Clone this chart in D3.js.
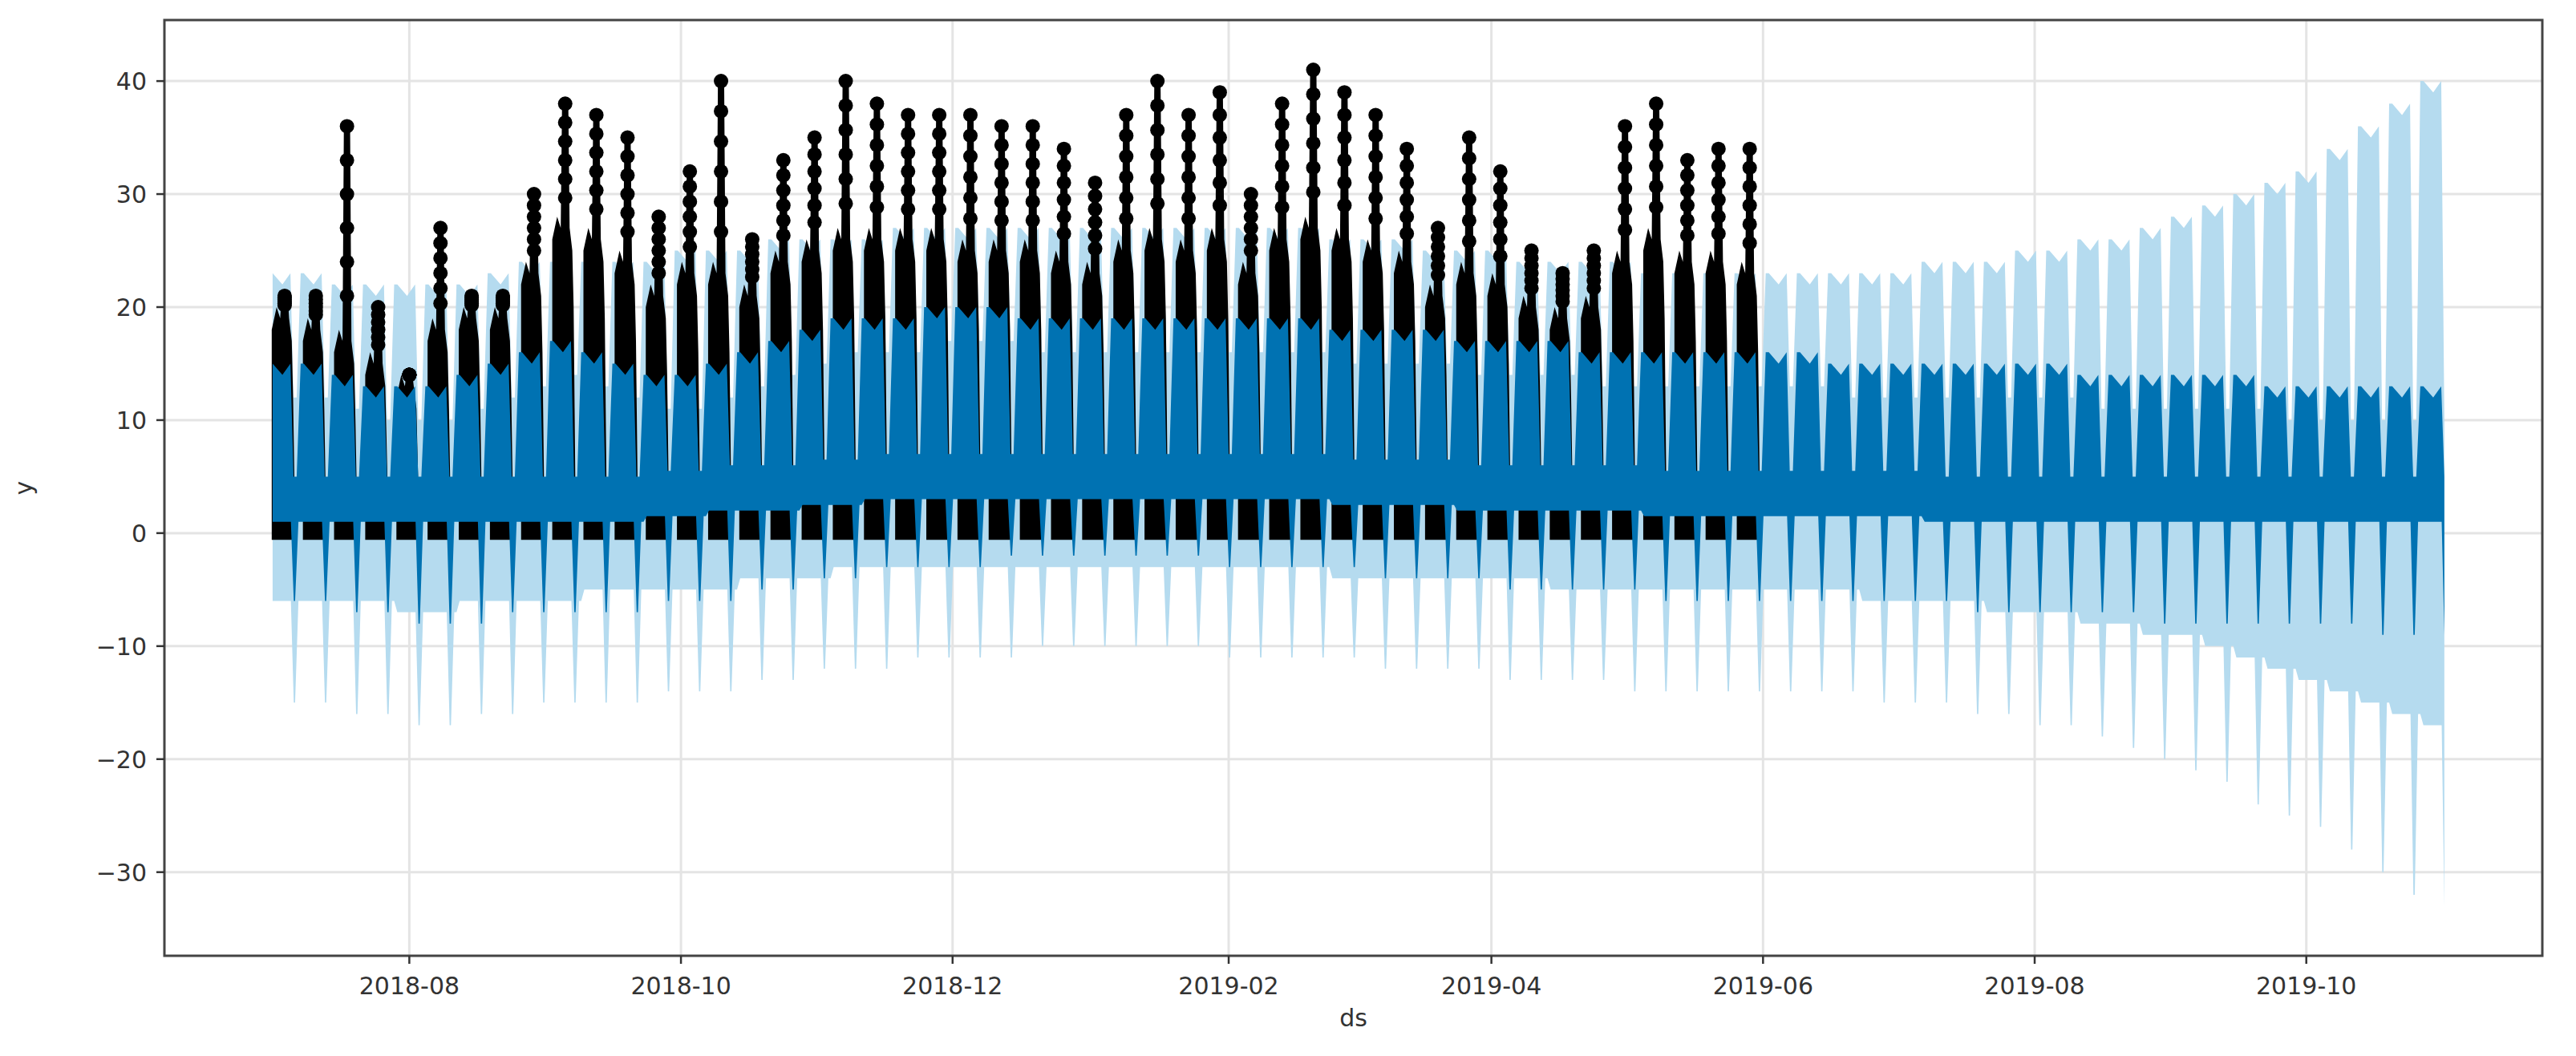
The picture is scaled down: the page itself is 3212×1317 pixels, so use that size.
<!DOCTYPE html>
<html><head><meta charset="utf-8">
<script src="https://cdn.jsdelivr.net/npm/d3@7"></script>
<style>body{margin:0;background:#fff}</style></head>
<body><svg id="c" width="3212" height="1317"></svg>
<script>
const startDate = "2018-07-01";
const endDate = "2019-11-01";
const obsEnd = "2019-06-01";
const xTicks = ["2018-08-01","2018-10-01","2018-12-01","2019-02-01","2019-04-01","2019-06-01","2019-08-01","2019-10-01"];
const yTicks = [-30,-20,-10,0,10,20,30,40];
// weekly forecast values (weeks starting 2018-07-01)
const yhatHigh = [15,15,14,13,13, 13,14,15,16, 17,16,15,14,14, 15,16,17,18, 19,19,19,20, 20,20,19,19,19, 19,19,19,19, 19,19,19,18, 18,18,18,17,17, 17,17,16,16, 16,16,16,16, 16,16,15,15,15, 15,15,15,15, 15,14,14,14, 14,14,14,13,13, 13,13,13,13];
const yhatBase = [1,1,1,1,1, 1,1,1,1, 1,1,1,1.5,1.5, 2,2,2,2.5, 2.5,3,3,3, 3,3,3,3,3, 3,3,3,3, 3,3,3,2.5, 2.5,2.5,2.5,2,2, 2,2,2,2, 1.5,1.5,1.5,1.5, 1.5,1.5,1.5,1.5,1.5, 1,1,1,1, 1,1,1,1, 1,1,1,1,1, 1,1,1,1];
const yhatDip = [-6,-6,-7,-7,-8, -8,-8,-7,-7, -7,-7,-7,-6,-6, -6,-5,-5,-4, -4,-3,-3,-3, -3,-2,-2,-2,-2, -2,-2,-2,-3, -3,-3,-3,-3, -4,-4,-4,-4,-5, -5,-5,-5,-5, -6,-6,-6,-6, -6,-6,-6,-6,-6, -6,-7,-7,-7, -7,-7,-7,-8, -8,-8,-8,-8,-8, -8,-9,-9,-9];
const upperHigh = [23,23,22,22,22, 22,22,23,24, 24,24,24,24,25, 25,25,26,26, 26,26,27,27, 27,27,27,27,27, 27,27,27,27, 27,27,27,26, 26,26,25,25,25, 24,24,24,24, 23,23,23,23, 23,23,23,23,23, 24,24,24,25, 25,26,26,27, 28,29,30,31,32, 34,36,38,40];
const lowerBase = [-6,-6,-6,-6,-7, -7,-6,-6,-6, -6,-5,-5,-5,-5, -5,-4,-4,-4, -3,-3,-3,-3, -3,-3,-3,-3,-3, -3,-3,-3,-3, -3,-3,-3,-4, -4,-4,-4,-4,-4, -4,-5,-5,-5, -5,-5,-5,-5, -5,-5,-5,-6,-6, -6,-6,-7,-7, -7,-8,-8,-9, -9,-10,-11,-12,-13, -14,-15,-16,-17];
const lowerDip = [-15,-15,-16,-16,-17, -17,-16,-16,-15, -15,-15,-15,-14,-14, -14,-13,-13,-12, -12,-12,-11,-11, -11,-11,-10,-10,-10, -10,-10,-10,-11, -11,-11,-11,-11, -12,-12,-12,-12,-13, -13,-13,-13,-14, -14,-14,-14,-14, -14,-14,-14,-15,-15, -15,-16,-16,-17, -17,-18,-19,-20, -21,-22,-24,-25,-26, -28,-30,-32,-33];
// weekly observed maxima and typical top (weeks starting 2018-07-01)
const obsMax = [21,21,36,20,14,27,21,21,30,38,37,35,28,32,40,26,33,35,40,38,37,37,37,36,36,34,31,37,40,37,39,30,38,41,39,37,34,27,35,32,25,23,25,36,38,33,34,34];
const obsTypical = [20,19,18,16,14,19,20,20,24,28,27,25,22,24,24,22,25,26,27,27,27,27,26,26,26,25,24,26,27,26,27,24,27,28,27,26,25,22,24,23,21,20,21,25,27,25,25,24];

const W=3212,H=1317,m={l:205,r:42,t:25,b:125};
const svg=d3.select("#c");
const parse=d3.utcParse("%Y-%m-%d");
const x=d3.scaleUtc().domain([parse("2018-06-07"),parse("2019-11-23")]).range([m.l,W-m.r]);
const y=d3.scaleLinear().domain([-37.4,45.4]).range([H-m.b,m.t]);
const t0=parse(startDate), tEnd=parse(endDate), tObs=parse(obsEnd);
const day=864e5;
const T=(k,d)=>new Date(Math.min(+t0+(k*7+d)*day,+tEnd));
const line=d3.line().x(d=>x(d[0])).y(d=>y(d[1]));

// grid
const g=svg.append("g");
g.selectAll(".gx").data(xTicks).join("line").attr("x1",d=>x(parse(d))).attr("x2",d=>x(parse(d))).attr("y1",m.t).attr("y2",H-m.b).attr("stroke","#e4e4e4").attr("stroke-width",3);
g.selectAll(".gy").data(yTicks).join("line").attr("x1",m.l).attr("x2",W-m.r).attr("y1",d=>y(d)).attr("y2",d=>y(d)).attr("stroke","#e4e4e4").attr("stroke-width",3);

function band(hi,base,dip,topDip){
  const top=[],bot=[];
  hi.forEach((h,k)=>{
    const hp=(k+1<hi.length)?hi[k+1]:h;
    top.push([T(k,0.3),h],[T(k,2.5),h-1],[T(k,4.3),h],[T(k,5.0),topDip(k)],[T(k,5.7),topDip(k)],[T(k,6.6),hp]);
    bot.push([T(k,0.3),base[k]],[T(k,4.4),base[k]],[T(k,5.05),dip[k]],[T(k,5.35),dip[k]],[T(k,6.1),base[k]],[T(k,6.6),base[k]]);
  });
  const pts=top.concat(bot.reverse());
  return line(pts)+"Z";
}
// uncertainty band
svg.append("path").attr("d",band(upperHigh,lowerBase,lowerDip,k=>yhatHigh[k]-3)).attr("fill","#b5dbef");
// observations
const og=svg.append("g").attr("fill","#000");
const nObs=Math.round((tObs-t0)/day/7);
obsMax.slice(0,nObs).forEach((v,k)=>{
  const ty=obsTypical[k];
  og.append("path").attr("d",line([[T(k,0.1),-0.6],[T(k,0.1),ty-2],[T(k,1.2),ty],[T(k,2.0),ty-1],[T(k,2.3),v],[T(k,3.7),v],[T(k,4.0),ty-1],[T(k,4.6),ty-3],[T(k,4.9),ty-8],[T(k,5.4),-0.6]])+"Z");
  for(let j=0;j<6;j++){og.append("circle").attr("cx",x(T(k,3))).attr("cy",y(v-j*(v-ty)/6)).attr("r",9);}
});
// forecast
svg.append("path").attr("d",band(yhatHigh,yhatBase,yhatDip,k=>yhatBase[k]+4)).attr("fill","#0072B2");

// axes
const ax=svg.append("g").attr("font-family","DejaVu Sans").attr("font-size",30).attr("fill","#333");
ax.append("rect").attr("x",m.l).attr("y",m.t).attr("width",W-m.l-m.r).attr("height",H-m.t-m.b).attr("fill","none").attr("stroke","#444").attr("stroke-width",3);
xTicks.forEach(d=>{const px=x(parse(d));
  ax.append("line").attr("x1",px).attr("x2",px).attr("y1",H-m.b).attr("y2",H-m.b+10).attr("stroke","#333").attr("stroke-width",2.5);
  ax.append("text").attr("x",px).attr("y",H-m.b+48).attr("text-anchor","middle").text(d.slice(0,7));});
yTicks.forEach(v=>{const py=y(v);
  ax.append("line").attr("x1",m.l-10).attr("x2",m.l).attr("y1",py).attr("y2",py).attr("stroke","#333").attr("stroke-width",2.5);
  ax.append("text").attr("x",m.l-22).attr("y",py+11).attr("text-anchor","end").text(String(v).replace("-","\u2212"));});
ax.append("text").attr("x",(m.l+W-m.r)/2).attr("y",H-m.b+88).attr("text-anchor","middle").text("ds");
ax.append("text").attr("transform",`translate(40,${(m.t+H-m.b)/2}) rotate(-90)`).attr("text-anchor","middle").text("y");
</script></body></html>
